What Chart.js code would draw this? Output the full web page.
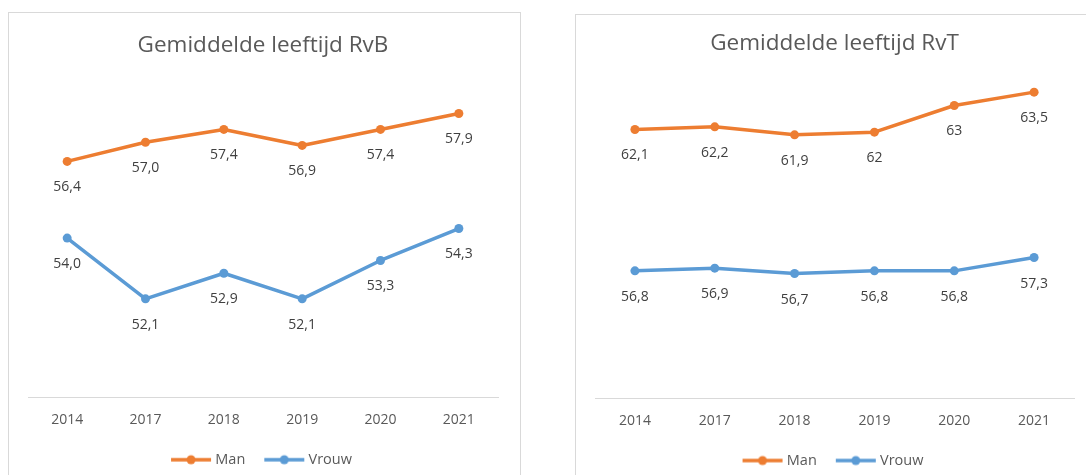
<!DOCTYPE html>
<html><head><meta charset="utf-8">
<script src="https://cdn.jsdelivr.net/npm/chart.js@4"></script>
<style>
html,body{margin:0;padding:0;background:#fff;width:1086px;height:475px;overflow:hidden;}
.box{position:absolute;border:1px solid #D9D9D9;box-sizing:border-box;pointer-events:none;}
canvas{position:absolute;}
</style></head><body>
<canvas id="c1" width="512" height="480" style="left:8px;top:12px"></canvas>
<canvas id="c2" width="518" height="480" style="left:575px;top:14px"></canvas>
<div class="box" style="left:8px;top:12px;width:513px;height:500px"></div>
<div class="box" style="left:575px;top:14px;width:540px;height:500px"></div>
<script>
// ---- data ----
const years = ['2014', '2017', '2018', '2019', '2020', '2021'];
const seriesNames = ['Man', 'Vrouw'];
const rvbMan = [56.4, 57.0, 57.4, 56.9, 57.4, 57.9];
const rvbVrouw = [54.0, 52.1, 52.9, 52.1, 53.3, 54.3];
const rvtMan = [62.1, 62.2, 61.9, 62, 63, 63.5];
const rvtVrouw = [56.8, 56.9, 56.7, 56.8, 56.8, 57.3];
const titles = ['Gemiddelde leeftijd RvB', 'Gemiddelde leeftijd RvT'];

const ORANGE = '#ED7D31', BLUE = '#5B9BD5';
const FONT = '"Open Sans", "Noto Sans", sans-serif';

function legendIcon(color) {
  const c = document.createElement('canvas');
  c.width = 42; c.height = 12;
  const x = c.getContext('2d');
  x.strokeStyle = color; x.lineWidth = 3.5;
  x.beginPath(); x.moveTo(1, 6); x.lineTo(41, 6); x.stroke();
  x.fillStyle = color;
  x.beginPath(); x.arc(21, 6, 4.5, 0, Math.PI * 2); x.fill();
  return c;
}

const dataLabels = {
  id: 'dataLabels',
  afterDatasetsDraw(chart, args, opts) {
    const ctx = chart.ctx;
    ctx.save();
    ctx.font = '14px ' + FONT;
    ctx.fillStyle = '#404040';
    ctx.textAlign = 'center';
    ctx.textBaseline = 'middle';
    chart.data.datasets.forEach((ds, i) => {
      const meta = chart.getDatasetMeta(i);
      meta.data.forEach((pt, j) => {
        const v = ds.data[j];
        const txt = opts.fixed ? v.toFixed(1).replace('.', ',') : String(v).replace('.', ',');
        ctx.fillText(txt, pt.x, pt.y + 26);
      });
    });
    ctx.restore();
  }
};

function makeChart(id, title, man, vrouw, cfg) {
  const icons = [legendIcon(ORANGE), legendIcon(BLUE)];
  return new Chart(document.getElementById(id), {
    type: 'line',
    data: {
      labels: years,
      datasets: [
        { label: seriesNames[0], data: man, borderColor: ORANGE, backgroundColor: ORANGE },
        { label: seriesNames[1], data: vrouw, borderColor: BLUE, backgroundColor: BLUE }
      ]
    },
    options: {
      responsive: false,
      animation: false,
      devicePixelRatio: 1,
      layout: { padding: cfg.padding },
      elements: {
        line: { borderWidth: 3.5, tension: 0, borderCapStyle: 'round', borderJoinStyle: 'round' },
        point: { radius: 4.5, borderWidth: 0, hoverRadius: 4.5 }
      },
      scales: {
        x: {
          offset: true,
          grid: { display: false, drawTicks: false },
          border: { display: true, color: '#D9D9D9', width: 1 },
          ticks: { color: '#595959', font: { family: FONT, size: 14 }, padding: 13.6, maxRotation: 0 },
          afterFit: s => { s.height += cfg.extra; }
        },
        y: { display: false, min: cfg.min, max: cfg.max }
      },
      plugins: {
        title: {
          display: true, text: title, color: '#595959',
          font: { family: FONT, size: 22.5, weight: 'normal', lineHeight: 1.2 },
          padding: cfg.titlePad
        },
        legend: {
          position: 'bottom',
          labels: {
            color: '#595959',
            font: { family: FONT, size: 14.5 },
            usePointStyle: true,
            pointStyleWidth: 34,
            padding: 22,
            generateLabels: chart => Chart.defaults.plugins.legend.labels.generateLabels(chart).map((it, i) => Object.assign(it, { pointStyle: icons[i] }))
          }
        },
        tooltip: { enabled: false },
        dataLabels: { fixed: cfg.fixed }
      }
    },
    plugins: [dataLabels]
  });
}

function draw() {
  makeChart('c1', titles[0], rvbMan, rvbVrouw, {
    min: 49, max: 59, fixed: true, extra: -11.4,
    padding: { left: 20, right: 22, top: 0, bottom: 15 },
    titlePad: { top: 20.5, bottom: 18.8 }
  });
  makeChart('c2', titles[1], rvtMan, rvtVrouw, {
    min: 52, max: 64, fixed: false, extra: -11.6,
    padding: { left: 20, right: 19, top: 0, bottom: 16.2 },
    titlePad: { top: 16.3, bottom: 21.5 }
  });
}
if (document.fonts && document.fonts.load) {
  Promise.all([document.fonts.load('14px "Open Sans"'), document.fonts.load('22px "Open Sans"')]).then(draw, draw);
} else draw();
</script>
</body></html>
